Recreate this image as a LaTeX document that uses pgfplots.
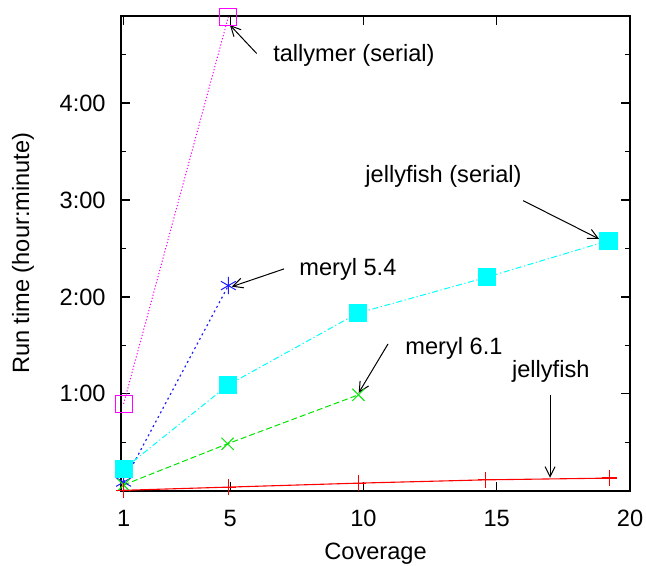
\documentclass[border=0pt]{standalone}
\usepackage{fontspec}
\setmainfont{Liberation Sans}
\usepackage{pgfplots}
\pgfplotsset{compat=1.18}
\usetikzlibrary{arrows.meta}
\definecolor{gred}{RGB}{255,0,0}
\definecolor{ggreen}{RGB}{0,230,0}
\definecolor{gblue}{RGB}{30,30,255}
\definecolor{gmag}{RGB}{255,0,255}
\definecolor{gcyan}{RGB}{0,255,255}
\begin{document}
\fontsize{11.8}{14}\selectfont
\begin{tikzpicture}
\path[use as bounding box] (-60.5pt,-37.5pt) rectangle (262.5pt,245.4pt);
\begin{axis}[
  at={(0,0)}, anchor=south west,
  scale only axis, width=254.5pt, height=237.5pt,
  xmin=0.902, xmax=20, ymin=0, ymax=4.9,
  xtick={1,5,10,15,20}, xticklabels={1,5,10,15,20},
  ytick={1,2,3,4}, yticklabels={1:00,2:00,3:00,4:00},
  minor ytick={0.5,1.5,2.5,3.5,4.5},
  tick align=inside, tick pos=both,
  major tick length=4.5pt, minor tick length=2.5pt,
  every tick/.style={black, line width=0.6pt},
  axis line style={line width=0.8pt},
  xticklabel style={anchor=north, inner sep=0pt, yshift=-9.5pt},
  yticklabel style={anchor=east, inner sep=0pt, xshift=-7.5pt},
  xlabel={Coverage}, ylabel={Run time (hour:minute)},
  xlabel style={at={(axis description cs:0.5,-0.133)}, anchor=center},
  ylabel style={at={(axis description cs:-0.1925,0.5)}, anchor=center},
  clip=false,
]
\addplot[gmag, line width=0.5pt, dash pattern=on 0.6pt off 1pt, mark=square, mark size=4.3pt, mark options={solid, line width=0.5pt}]
  coordinates {(1,0.897) (4.93,4.89)};
\addplot[gblue, line width=0.6pt, dash pattern=on 1pt off 1.6pt, mark=asterisk, mark size=4.3pt, mark options={solid, line width=0.5pt}]
  coordinates {(1,0.09) (4.93,2.117)};
\addplot[gcyan, line width=0.5pt, dash pattern=on 3pt off 1.3pt on 0.6pt off 1.3pt, mark=square*, mark size=4.3pt, mark options={solid, line width=0pt, fill=gcyan, draw=gcyan}]
  coordinates {(1,0.224) (4.93,1.093) (9.78,1.832) (14.62,2.203) (19.19,2.58)};
\addplot[ggreen, line width=0.5pt, dash pattern=on 3pt off 1.5pt, mark=x, mark size=4.3pt, mark options={solid, line width=0.5pt}]
  coordinates {(1,0.06) (4.9,0.485) (9.81,0.99)};
\addplot[gred, line width=0.55pt, mark=+, mark size=3.9pt, mark options={solid, line width=0.6pt, draw=gred}]
  coordinates {(1,0.005) (4.93,0.038) (9.81,0.079) (14.59,0.113) (19.23,0.131)};

\draw[line width=0.5pt, -{Straight Barb[length=5pt,width=5pt]}] (axis cs:5.99,4.512) -- (axis cs:4.99,4.804);
\node[anchor=west, inner sep=0pt] at (axis cs:6.6,4.495) {tallymer (serial)};
\draw[line width=0.5pt, -{Straight Barb[length=5pt,width=5pt]}] (axis cs:15.99,2.993) -- (axis cs:18.84,2.598);
\node[anchor=west, inner sep=0pt] at (axis cs:10.06,3.24) {jellyfish (serial)};
\draw[line width=0.5pt, -{Straight Barb[length=5pt,width=5pt]}] (axis cs:7.02,2.289) -- (axis cs:5.06,2.106);
\node[anchor=west, inner sep=0pt] at (axis cs:7.58,2.286) {meryl 5.4};
\draw[line width=0.5pt, -{Straight Barb[length=5pt,width=5pt]}] (axis cs:10.92,1.515) -- (axis cs:9.82,1.01);
\node[anchor=west, inner sep=0pt] at (axis cs:11.56,1.474) {meryl 6.1};
\draw[line width=0.5pt, -{Straight Barb[length=5pt,width=5pt]}] (axis cs:17.0,0.99) -- (axis cs:17.0,0.134);
\node[anchor=west, inner sep=0pt] at (axis cs:15.56,1.23) {jellyfish};
\end{axis}
\end{tikzpicture}
\end{document}
